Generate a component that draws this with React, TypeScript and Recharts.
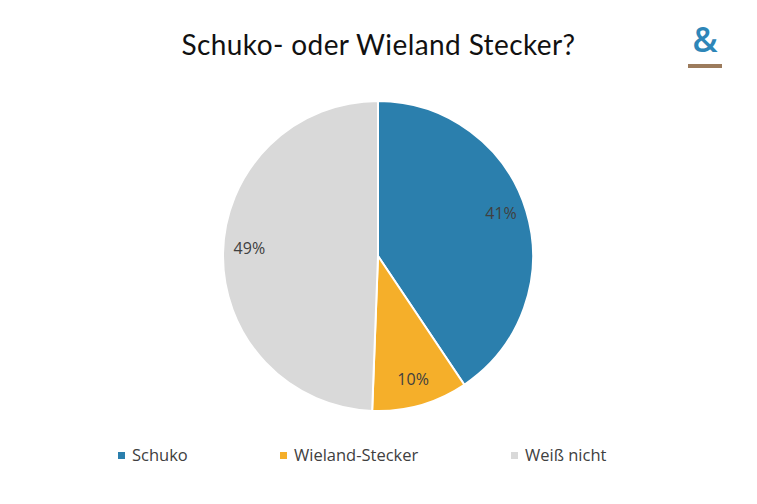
import React from 'react';
import { PieChart, Pie, Cell } from 'recharts';

const categories = ['Schuko', 'Wieland-Stecker', 'Weiß nicht'];
const shares = [40.6, 10.0, 49.4];
const colors = ['#2B7FAD', '#F5AF2A', '#D9D9D9'];

const data = categories.map((name, i) => ({ name, value: shares[i] }));

const RAD = Math.PI / 180;

function renderLabel(props: any) {
  const { cx, cy, midAngle, outerRadius, percent } = props;
  const r = outerRadius * 0.83;
  const cos = Math.cos(-midAngle * RAD);
  const x = cx + r * cos;
  // side labels sit a bit higher, like in the original
  const y = cy + r * Math.sin(-midAngle * RAD) - 7 * Math.abs(cos) + 1;
  return (
    <text
      x={x}
      y={y}
      textAnchor="middle"
      dominantBaseline="central"
      fill="#404040"
      fontSize={16}
      fontFamily="'Open Sans', sans-serif"
    >
      {`${Math.round(percent * 100)}%`}
    </text>
  );
}

// left edge of each legend entry
const legendLeft = [118, 280, 511];

export default function App() {
  return (
    <div
      style={{
        position: 'absolute',
        left: 0,
        top: 0,
        width: 757,
        height: 504,
        background: '#fff',
        overflow: 'hidden',
      }}
    >
      <div
        style={{
          position: 'absolute',
          top: 26,
          left: 0,
          width: 757,
          textAlign: 'center',
          fontFamily: 'Lato, sans-serif',
          fontSize: 28,
          lineHeight: '36px',
          letterSpacing: 0.4,
          color: '#111',
        }}
      >
        Schuko- oder Wieland Stecker?
      </div>
      <div style={{ position: 'absolute', left: 688, top: 20, width: 34, textAlign: 'center' }}>
        <div
          style={{
            fontFamily: "'Open Sans', sans-serif",
            fontWeight: 600,
            fontSize: 34,
            color: '#2E86B8',
            lineHeight: '38px',
          }}
        >
          &amp;
        </div>
        <div style={{ height: 4, background: '#9C7B5C', marginTop: 6 }} />
      </div>
      <PieChart width={757} height={504} margin={{ top: 0, right: 0, bottom: 0, left: 0 }}>
        <Pie
          data={data}
          dataKey="value"
          nameKey="name"
          cx={378}
          cy={256}
          outerRadius={155}
          startAngle={90}
          endAngle={-270}
          stroke="#fff"
          strokeWidth={2}
          label={renderLabel}
          labelLine={false}
          isAnimationActive={false}
        >
          {data.map((d, i) => (
            <Cell key={d.name} fill={colors[i]} />
          ))}
        </Pie>
      </PieChart>
      {categories.map((c, i) => (
        <div
          key={c}
          style={{
            position: 'absolute',
            top: 443,
            left: legendLeft[i],
            display: 'flex',
            alignItems: 'center',
            fontFamily: "'Open Sans', sans-serif",
            fontSize: 16.5,
            lineHeight: '24px',
            color: '#404040',
          }}
        >
          <span style={{ width: 7, height: 7, background: colors[i], marginRight: 7, display: 'inline-block' }} />
          <span>{c}</span>
        </div>
      ))}
    </div>
  );
}
